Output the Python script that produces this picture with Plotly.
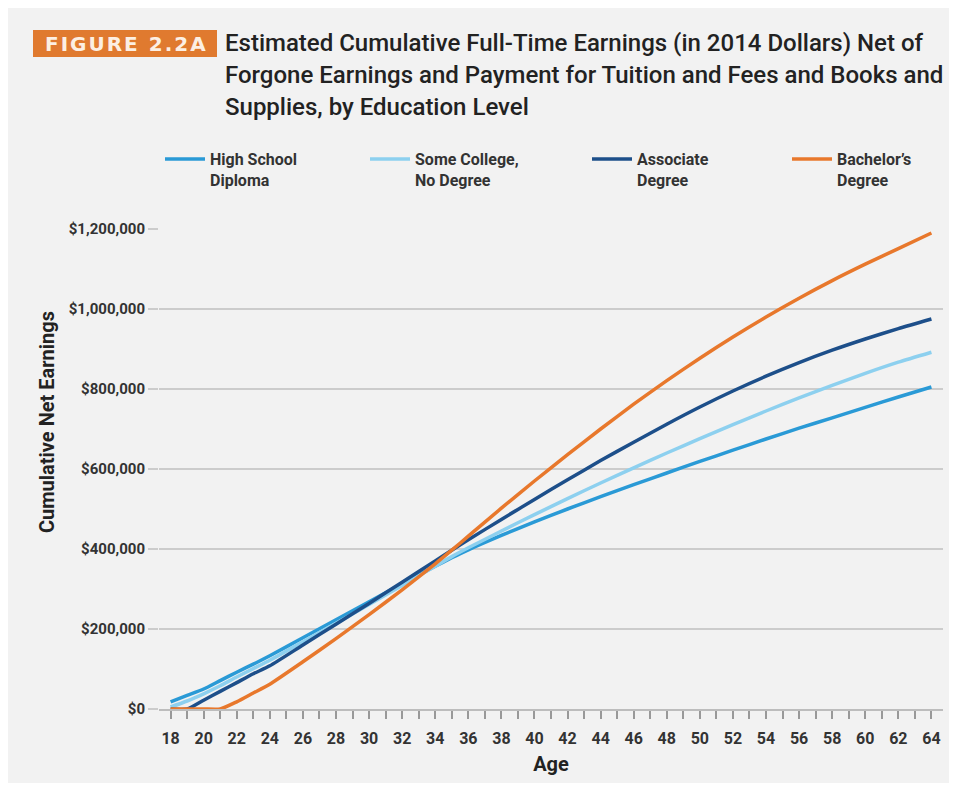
import plotly.graph_objects as go

ages = [18, 19, 20, 21, 22, 23, 24, 26, 28, 30, 32, 34, 35, 36, 38, 40, 42, 44, 46, 48, 50, 52, 54, 56, 58, 60, 62, 64]
high_school = [18, 34, 50, 71, 92, 112, 133, 178, 223, 268, 313, 357, 378, 398, 434, 468, 500, 531, 561, 590, 619, 647, 675, 702, 728, 754, 780, 805]
some_college = [5, 20, 38, 58, 80, 101, 122, 168, 214, 261, 309, 357, 381, 403, 445, 486, 526, 565, 603, 640, 676, 711, 745, 778, 809, 839, 867, 892]
associate = [0, 0, 22, 44, 66, 88, 108, 160, 212, 264, 317, 370, 397, 423, 474, 524, 573, 621, 667, 712, 755, 795, 832, 866, 897, 925, 951, 975]
bachelor = [0, 0, 0, 0, 18, 40, 62, 118, 176, 236, 298, 363, 397, 432, 502, 570, 636, 700, 762, 821, 877, 930, 980, 1027, 1071, 1112, 1151, 1190]

series_names = ["High School<br>Diploma", "Some College,<br>No Degree", "Associate<br>Degree", "Bachelor\u2019s<br>Degree"]
series_values = [high_school, some_college, associate, bachelor]
series_colors = ["#2a9ad6", "#8dd0ef", "#1d4f8a", "#e8782c"]

y_tickvals = [0, 200000, 400000, 600000, 800000, 1000000, 1200000]
y_ticktext = ["$0", "$200,000", "$400,000", "$600,000", "$800,000", "$1,000,000", "$1,200,000"]

title_lines = [
    "Estimated Cumulative Full-Time Earnings (in 2014 Dollars) Net of",
    "Forgone Earnings and Payment for Tuition and Fees and Books and",
    "Supplies, by Education Level",
]

FONT = "Roboto, sans-serif"
TEXT = "#333333"

# page pixel -> paper coordinate helpers (plot area: x 159..943, y 229..709 in page pixels)
def px(xp):
    return (xp - 159) / 784

def py(yp):
    return (709 - yp) / 480

legend_x_pages = [160, 365, 587, 787]
legend_keys = ["legend", "legend2", "legend3", "legend4"]

fig = go.Figure()
for name, vals, col, lk in zip(series_names, series_values, series_colors, legend_keys):
    fig.add_trace(go.Scatter(
        x=ages, y=[v * 1000 for v in vals], name=name, mode="lines",
        line=dict(color=col, width=3.5, shape="spline", smoothing=0.6),
        cliponaxis=False, legend=lk,
    ))

legend_common = dict(
    orientation="h", yanchor="top", xanchor="left",
    font=dict(family=FONT, size=16, color=TEXT, weight="bold"),
    bgcolor="rgba(0,0,0,0)", itemwidth=40, valign="top",
)
layout_legends = {}
for lk, xp in zip(legend_keys, legend_x_pages):
    d = dict(legend_common)
    d.update(x=px(xp), y=py(142))
    layout_legends[lk] = d

fig.update_layout(
    width=941, height=775,
    margin=dict(l=151, r=6, t=221, b=74),
    paper_bgcolor="#f2f2f2", plot_bgcolor="#f2f2f2",
    font=dict(family=FONT, color=TEXT),
    showlegend=True,
    xaxis=dict(
        range=[17.3, 64.7], tickmode="linear", tick0=18, dtick=2,
        ticks="outside", ticklen=8, tickwidth=1.5, tickcolor="#999999",
        minor=dict(dtick=1, tick0=18, ticks="outside", ticklen=8, tickwidth=1.5, tickcolor="#999999"),
        showgrid=False, zeroline=False,
        showline=True, linecolor="#bdbdbd", linewidth=2,
        ticklabelstandoff=6,
        tickfont=dict(family=FONT, size=16, color=TEXT, weight="bold"),
        title=dict(text="Age", font=dict(family=FONT, size=20, color="#222222", weight="bold"), standoff=10),
    ),
    yaxis=dict(
        range=[0, 1200000], tickmode="array", tickvals=y_tickvals, ticktext=y_ticktext,
        ticks="outside", ticklen=10, tickwidth=2, tickcolor="#cccccc",
        showgrid=True, gridcolor="#cccccc", gridwidth=2,
        zeroline=False, showline=False,
        tickfont=dict(family=FONT, size=15, color=TEXT, weight="bold"),
    ),
    **layout_legends,
)

# y-axis title
fig.add_annotation(
    text="Cumulative Net Earnings", xref="paper", yref="paper",
    x=px(47), y=py(422), xanchor="center", yanchor="middle", textangle=-90,
    showarrow=False, font=dict(family=FONT, size=20, color="#222222", weight="bold"),
)

# figure label box
fig.add_shape(
    type="rect", xref="paper", yref="paper",
    x0=px(33), x1=px(217), y0=py(57), y1=py(30),
    fillcolor="#e07a2f", line=dict(width=0), layer="above",
)
fig.add_annotation(
    text="\u200a".join("FIGURE 2.2A"), xref="paper", yref="paper",
    x=px(125), y=py(43.5), xanchor="center", yanchor="middle",
    showarrow=False,
    font=dict(family="DejaVu Sans, sans-serif", size=20, color="#fcefe3", weight="bold"),
)

for i, line in enumerate(title_lines):
    fig.add_annotation(
        text=line, xref="paper", yref="paper",
        x=px(223), y=py(43 + 32 * i), xanchor="left", yanchor="middle",
        showarrow=False, font=dict(family=FONT, size=24, color="#222222", weight=500),
    )

fig.write_html("out.html")
